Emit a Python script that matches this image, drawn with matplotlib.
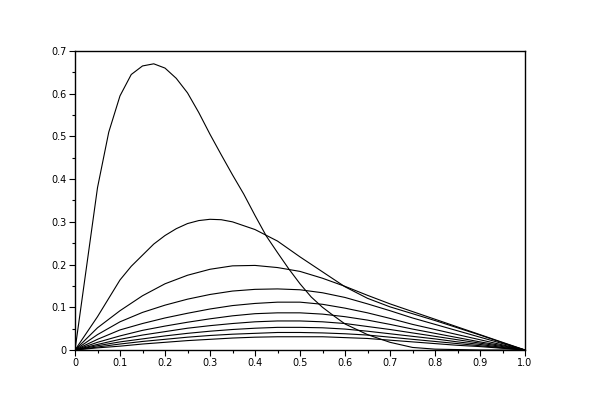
import matplotlib
matplotlib.use("Agg")
import matplotlib.pyplot as plt
from matplotlib.ticker import MultipleLocator

# Curve 1 (tall peak) sampled on its own grid
x1 = [0, 0.025, 0.05, 0.075, 0.1, 0.125, 0.15, 0.175, 0.2, 0.225, 0.25, 0.275,
      0.3, 0.325, 0.35, 0.375, 0.4, 0.425, 0.45, 0.475, 0.5, 0.525, 0.55, 0.575,
      0.6, 0.65, 0.7, 0.75, 0.8, 0.85, 0.9, 0.95, 1.0]
y1 = [0, 0.19, 0.38, 0.51, 0.595, 0.645, 0.665, 0.670, 0.660, 0.636, 0.602, 0.556,
      0.505, 0.457, 0.41, 0.365, 0.315, 0.267, 0.228, 0.19, 0.155, 0.124, 0.1, 0.08,
      0.061, 0.036, 0.018, 0.006, 0.002, 0.001, 0.0, 0.0, 0.0]

# Curve 2 sampled on a finer grid near its peak
x2 = [0, 0.05, 0.1, 0.125, 0.15, 0.175, 0.2, 0.225, 0.25, 0.275, 0.3, 0.325,
      0.35, 0.4, 0.45, 0.5, 0.55, 0.6, 0.65, 0.7, 0.75, 0.8, 0.85, 0.9, 0.95, 1.0]
y2 = [0, 0.078, 0.164, 0.196, 0.222, 0.248, 0.268, 0.284, 0.296, 0.303, 0.306, 0.305,
      0.300, 0.282, 0.255, 0.218, 0.183, 0.148, 0.121, 0.101, 0.085, 0.069, 0.052,
      0.035, 0.017, 0]

# Other curves sampled every 0.05
x = [0, 0.05, 0.1, 0.15, 0.2, 0.25, 0.3, 0.35, 0.4, 0.45, 0.5,
     0.55, 0.6, 0.65, 0.7, 0.75, 0.8, 0.85, 0.9, 0.95, 1.0]
y3 = [0, 0.052, 0.092, 0.127, 0.155, 0.175, 0.189, 0.197, 0.198, 0.193, 0.184,
      0.168, 0.149, 0.128, 0.108, 0.09, 0.072, 0.054, 0.036, 0.018, 0]
y4 = [0, 0.036, 0.066, 0.088, 0.105, 0.119, 0.13, 0.138, 0.142, 0.143, 0.141,
      0.134, 0.123, 0.108, 0.092, 0.075, 0.06, 0.045, 0.03, 0.015, 0]
y5 = [0, 0.025, 0.047, 0.062, 0.075, 0.086, 0.096, 0.104, 0.109, 0.112, 0.112,
      0.107, 0.098, 0.087, 0.074, 0.06, 0.048, 0.036, 0.024, 0.012, 0]
y6 = [0, 0.018, 0.033, 0.046, 0.056, 0.065, 0.073, 0.08, 0.085, 0.087, 0.087,
      0.084, 0.078, 0.07, 0.06, 0.049, 0.039, 0.029, 0.019, 0.01, 0]
y7 = [0, 0.013, 0.025, 0.035, 0.043, 0.051, 0.057, 0.062, 0.066, 0.068, 0.068,
      0.066, 0.062, 0.055, 0.048, 0.04, 0.032, 0.024, 0.016, 0.008, 0]
y8 = [0, 0.01, 0.019, 0.026, 0.033, 0.039, 0.044, 0.048, 0.051, 0.053, 0.053,
      0.052, 0.049, 0.044, 0.038, 0.032, 0.026, 0.019, 0.013, 0.006, 0]
y9 = [0, 0.007, 0.014, 0.02, 0.025, 0.03, 0.034, 0.037, 0.039, 0.041, 0.041,
      0.04, 0.038, 0.035, 0.03, 0.025, 0.02, 0.015, 0.01, 0.005, 0]
y10 = [0, 0.005, 0.009, 0.014, 0.018, 0.022, 0.025, 0.028, 0.030, 0.031, 0.031,
       0.031, 0.029, 0.027, 0.023, 0.019, 0.015, 0.011, 0.008, 0.004, 0]

xticks = [0, 0.1, 0.2, 0.3, 0.4, 0.5, 0.6, 0.7, 0.8, 0.9, 1.0]
xtick_labels = ["0", "0.1", "0.2", "0.3", "0.4", "0.5", "0.6", "0.7", "0.8", "0.9", "1.0"]
yticks = [0, 0.1, 0.2, 0.3, 0.4, 0.5, 0.6, 0.7]
ytick_labels = ["0", "0.1", "0.2", "0.3", "0.4", "0.5", "0.6", "0.7"]

fig = plt.figure(figsize=(6, 4), dpi=100)
ax = fig.add_axes([75/600, 1 - 350/400, 450/600, 299/400])

ax.plot(x1, y1, color="black", lw=0.8)
ax.plot(x2, y2, color="black", lw=0.8)
for ys in [y3, y4, y5, y6, y7, y8, y9, y10]:
    ax.plot(x, ys, color="black", lw=0.8)

ax.set_xlim(0, 1)
ax.set_ylim(0, 0.7)
ax.set_xticks(xticks)
ax.set_xticklabels(xtick_labels)
ax.set_yticks(yticks)
ax.set_yticklabels(ytick_labels)
ax.xaxis.set_minor_locator(MultipleLocator(0.05))
ax.yaxis.set_minor_locator(MultipleLocator(0.05))
ax.tick_params(which="major", direction="out", length=4, width=0.8,
               labelsize=7, pad=2, top=False, right=False)
ax.tick_params(which="minor", direction="out", length=2, width=0.8,
               top=False, right=False)
for s in ax.spines.values():
    s.set_linewidth(1.0)
    s.set_color("black")

fig.savefig("out.png", dpi=100)
